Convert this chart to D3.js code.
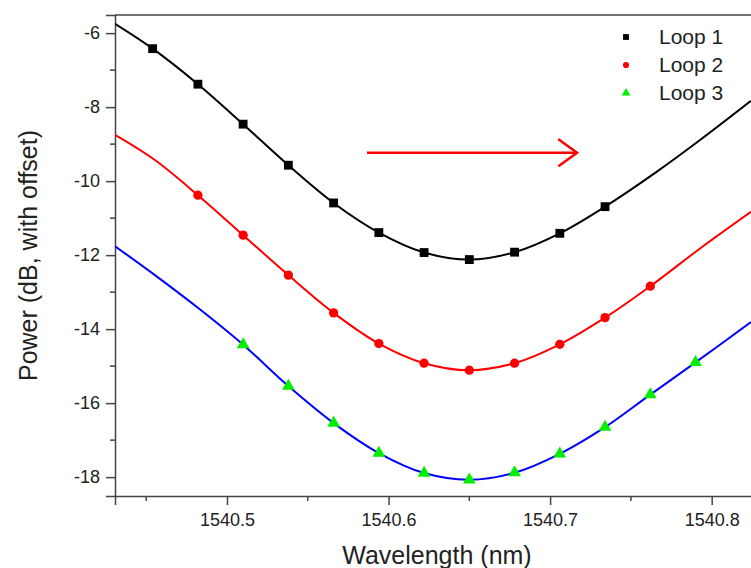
<!DOCTYPE html>
<html>
<head>
<meta charset="utf-8">
<script src="https://cdn.jsdelivr.net/npm/d3@7"></script>
<style>
    body { margin: 0; background: #fff; }
    svg { display: block; font-family: "Liberation Sans", Arial, sans-serif; }
    .tickText { font-size: 18px; fill: #222; }
    .axisText { font-size: 25px; fill: #222; }
    .legendText { font-size: 21px; fill: #222; }
</style>
</head>
<body>
<div id="chart"></div>
<script>
// Data
// marker wavelengths (nm), spacing ~0.028 nm
var markerWl = [1540.454, 1540.482, 1540.510, 1540.538, 1540.566, 1540.594, 1540.622,
    1540.650, 1540.678, 1540.706, 1540.734, 1540.762, 1540.790];

// marker powers (dB), null where a loop has no marker
var loop1 = [-6.42, -7.38, -8.46, -9.57, -10.59, -11.39, -11.93, -12.12, -11.92, -11.41, -10.69, null, null];
var loop2 = [null, -10.38, -11.46, -12.54, -13.56, -14.39, -14.92, -15.11, -14.92, -14.41, -13.69, -12.84, null];
var loop3 = [null, null, -14.42, -15.54, -16.54, -17.35, -17.89, -18.07, -17.88, -17.37, -16.65, -15.77, -14.90];

// extra points where the lines run past the markers
var loop1EdgeWl = [1540.4307, 1540.7659, 1540.7928, 1540.8243];
var loop1EdgePw = [-5.75, -9.75, -8.89, -7.83];
var loop2EdgeWl = [1540.4307, 1540.4554, 1540.7928, 1540.8243];
var loop2EdgePw = [-8.75, -9.43, -11.82, -10.83];
var loop3EdgeWl = [1540.4307, 1540.4554, 1540.4822, 1540.8243];
var loop3EdgePw = [-11.76, -12.54, -13.43, -13.81];

var seriesNames = ["Loop 1", "Loop 2", "Loop 3"];
var xTicks = [1540.5, 1540.6, 1540.7, 1540.8];
var xMinorTicks = [1540.45, 1540.55, 1540.65, 1540.75];
var yTicks = [-18, -16, -14, -12, -10, -8, -6];
var yMinorTicks = [-17, -15, -13, -11, -9, -7];

var svgWidth = 751;
var svgHeight = 568;

var margin = {
    top: 15,
    left: 115,
    bottom: 72
};

var svg = d3.select("#chart")
    .append("svg")
    .attr("width", svgWidth)
    .attr("height", svgHeight);

// Step 1: scales (plot runs past the right edge of the picture)
var xScale = d3.scaleLinear()
    .domain([1540.4307, 1540.85])
    .range([margin.left, margin.left + 0.4193 * 1615.7]);

var yScale = d3.scaleLinear()
    .domain([-18.51, -5.51])
    .range([svgHeight - margin.bottom, margin.top]);

var plotBottom = svgHeight - margin.bottom;

// Step 2: frame and axes
svg.append("line")
    .attr("x1", margin.left).attr("x2", svgWidth)
    .attr("y1", margin.top).attr("y2", margin.top)
    .attr("stroke", "#444").attr("stroke-width", 1.5);

var bottomAxis = d3.axisBottom(xScale)
    .tickValues(xTicks)
    .tickSize(9)
    .tickPadding(8)
    .tickFormat(d => d.toFixed(1));

// plain hyphen for negatives, like the original
var leftAxis = d3.axisLeft(yScale)
    .tickValues(yTicks)
    .tickSize(9)
    .tickPadding(6)
    .tickFormat(d => String(d));

var xAxisG = svg.append("g")
    .attr("transform", `translate(0, ${plotBottom})`)
    .call(bottomAxis);

xAxisG.append("g")
    .selectAll("line")
    .data(xMinorTicks)
    .enter()
    .append("line")
    .attr("x1", d => xScale(d)).attr("x2", d => xScale(d))
    .attr("y1", 0).attr("y2", 5)
    .attr("stroke", "#444").attr("stroke-width", 1.5);

var yAxisG = svg.append("g")
    .attr("transform", `translate(${margin.left}, 0)`)
    .call(leftAxis);

yAxisG.append("g")
    .selectAll("line")
    .data(yMinorTicks)
    .enter()
    .append("line")
    .attr("x1", 0).attr("x2", -5)
    .attr("y1", d => yScale(d)).attr("y2", d => yScale(d))
    .attr("stroke", "#444").attr("stroke-width", 1.5);

svg.selectAll(".domain").attr("stroke", "#444").attr("stroke-width", 1.5);
svg.selectAll(".tick line").attr("stroke", "#444").attr("stroke-width", 1.5);
svg.selectAll(".tick text")
    .attr("class", "tickText")
    .attr("font-family", null)
    .attr("font-size", null)
    .attr("fill", null);

// Step 3: lines and markers
svg.append("clipPath").attr("id", "plotClip")
    .append("rect")
    .attr("x", margin.left).attr("y", margin.top)
    .attr("width", svgWidth - margin.left).attr("height", plotBottom - margin.top);

function buildPoints(markers, edgeWl, edgePw) {
    var pts = [];
    markers.forEach(function (v, i) {
        if (v !== null) pts.push({ wl: markerWl[i], pw: v });
    });
    edgeWl.forEach(function (w, i) {
        pts.push({ wl: w, pw: edgePw[i] });
    });
    pts.sort((a, b) => a.wl - b.wl);
    return pts;
}

var series = [
    { name: seriesNames[0], markers: loop1, line: buildPoints(loop1, loop1EdgeWl, loop1EdgePw),
        lineColor: "#000000", markColor: "#000000", symbol: d3.symbolSquare, size: 78, legendSize: 34 },
    { name: seriesNames[1], markers: loop2, line: buildPoints(loop2, loop2EdgeWl, loop2EdgePw),
        lineColor: "#ff0000", markColor: "#ff0000", symbol: d3.symbolCircle, size: 68, legendSize: 30 },
    { name: seriesNames[2], markers: loop3, line: buildPoints(loop3, loop3EdgeWl, loop3EdgePw),
        lineColor: "#0000ff", markColor: "#00ee00", symbol: d3.symbolTriangle, size: 70, legendSize: 34 }
];

var lineGen = d3.line()
    .x(d => xScale(d.wl))
    .y(d => yScale(d.pw))
    .curve(d3.curveCatmullRom.alpha(0.5));

var plotGroup = svg.append("g").attr("clip-path", "url(#plotClip)");

series.forEach(function (s) {
    plotGroup.append("path")
        .datum(s.line)
        .attr("d", lineGen)
        .attr("fill", "none")
        .attr("stroke", s.lineColor)
        .attr("stroke-width", 2);

    var markerData = [];
    s.markers.forEach(function (v, i) {
        if (v !== null) markerData.push({ wl: markerWl[i], pw: v });
    });

    plotGroup.selectAll(null)
        .data(markerData)
        .enter()
        .append("path")
        .attr("d", d3.symbol().type(s.symbol).size(s.size))
        .attr("transform", d => `translate(${xScale(d.wl)}, ${yScale(d.pw)})`)
        .attr("fill", s.markColor);
});

// Step 4: arrow
var arrowY = yScale(-9.23);
var arrowX1 = xScale(1540.5867);
var arrowX2 = xScale(1540.7167);
svg.append("line")
    .attr("x1", arrowX1).attr("x2", arrowX2)
    .attr("y1", arrowY).attr("y2", arrowY)
    .attr("stroke", "#ff0000").attr("stroke-width", 2.5);
svg.append("path")
    .attr("d", `M${arrowX2 - 18},${arrowY - 13} L${arrowX2},${arrowY} L${arrowX2 - 18},${arrowY + 13}`)
    .attr("fill", "none")
    .attr("stroke", "#ff0000")
    .attr("stroke-width", 2.5)
    .attr("stroke-linecap", "round");

// Step 5: legend
var legend = svg.append("g")
    .attr("transform", "translate(626, 37)");

series.forEach(function (s, i) {
    legend.append("path")
        .attr("d", d3.symbol().type(s.symbol).size(s.legendSize))
        .attr("transform", `translate(0, ${i * 28})`)
        .attr("fill", s.markColor);
    legend.append("text")
        .attr("class", "legendText")
        .attr("x", 33)
        .attr("y", i * 28 + 7)
        .text(s.name);
});

// Step 6: axis labels
svg.append("text")
    .attr("class", "axisText")
    .attr("text-anchor", "middle")
    .attr("x", 437)
    .attr("y", 564)
    .text("Wavelength (nm)");

svg.append("text")
    .attr("class", "axisText")
    .attr("text-anchor", "middle")
    .attr("transform", `translate(37, ${(margin.top + plotBottom) / 2}) rotate(-90)`)
    .text("Power (dB, with offset)");
</script>
</body>
</html>
